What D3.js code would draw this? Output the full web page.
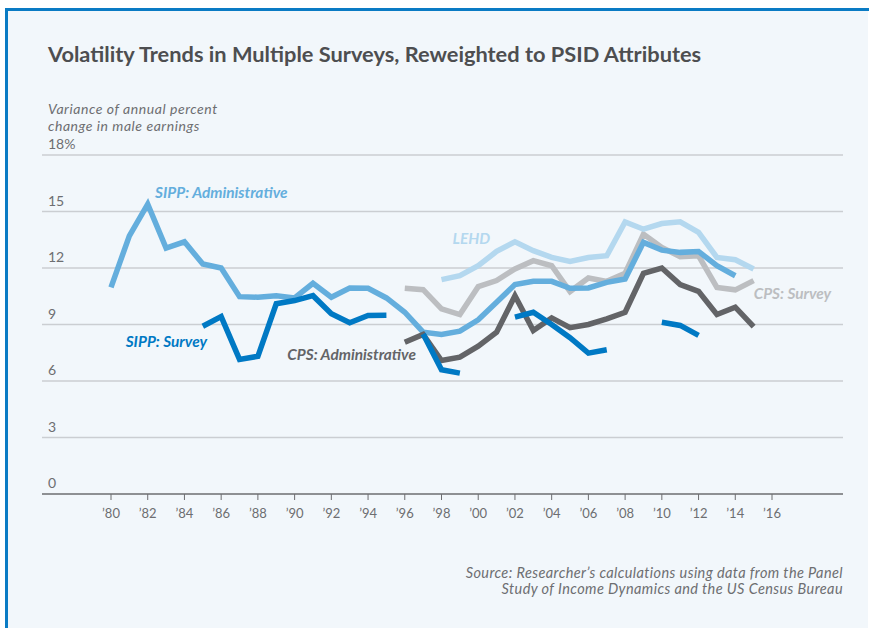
<!DOCTYPE html>
<head>
  <meta charset="utf-8">
  <script src="https://d3js.org/d3.v7.min.js"></script>
  <style>
    body { margin:0; background:#fff; }
    text { font-family: "Lato", "Open Sans", sans-serif; }
  </style>
</head>
<body>
<script>
  // data (variance of annual % change, male earnings)
  var yearsSippAdmin = d3.range(1980, 2015);
  var sippAdmin = [10.97, 13.71, 15.39, 13.06, 13.39, 12.21, 12.0, 10.48, 10.45, 10.52,
                   10.41, 11.19, 10.45, 10.94, 10.92, 10.41, 9.65, 8.59, 8.47, 8.65,
                   9.25, 10.18, 11.12, 11.29, 11.29, 10.92, 10.94, 11.24, 11.42, 13.36,
                   12.95, 12.83, 12.88, 12.12, 11.59];

  var yearsSippSurvey = d3.range(1985, 2013);
  var sippSurvey = [8.91, 9.42, 7.15, 7.31, 10.1, 10.27, 10.53, 9.57, 9.09, 9.48,
                    9.49, null, 8.5, 6.6, 6.42, null, null, 9.39, 9.65, 9.0,
                    8.3, 7.48, 7.66, null, null, 9.12, 8.95, 8.42];

  var yearsLehd = d3.range(1998, 2016);
  var lehd = [11.38, 11.59, 12.12, 12.88, 13.39, 12.92, 12.56, 12.35, 12.56, 12.65,
              14.45, 14.06, 14.36, 14.45, 13.89, 12.56, 12.44, 11.95];

  var yearsCps = d3.range(1996, 2016);
  var cpsSurvey = [10.92, 10.85, 9.83, 9.53, 11.01, 11.33, 11.95, 12.39, 12.12, 10.75,
                   11.47, 11.29, 11.72, 13.8, 13.09, 12.6, 12.65, 10.97, 10.84, 11.33];
  var cpsAdmin = [8.06, 8.47, 7.09, 7.27, 7.85, 8.59, 10.53, 8.68, 9.35, 8.83,
                  9.0, 9.3, 9.65, 11.72, 12.0, 11.12, 10.76, 9.53, 9.92, 8.89];

  var yTicks = [0, 3, 6, 9, 12, 15, 18];
  var xTicks = d3.range(1980, 2017, 2);

  var width = 869, height = 628;

  var svg = d3.select("body").append("svg")
    .attr("width", width)
    .attr("height", height);

  // panel with blue top/left border
  svg.append("rect").attr("x", 6).attr("y", 9).attr("width", 862).attr("height", 620)
    .attr("fill", "#f2f7fb");
  svg.append("rect").attr("x", 5).attr("y", 8).attr("width", 864).attr("height", 3)
    .attr("fill", "#0a7bc4");
  svg.append("rect").attr("x", 5).attr("y", 8).attr("width", 3).attr("height", 620)
    .attr("fill", "#0a7bc4");

  svg.append("text")
    .attr("x", 48).attr("y", 62)
    .attr("fill", "#4d4e50")
    .style("font-size", "21.8px").style("font-weight", "700")
    .text("Volatility Trends in Multiple Surveys, Reweighted to PSID Attributes");

  var axTitle = svg.append("text").attr("fill", "#6d6e71")
    .style("font-size", "14px").style("font-style", "italic")
    .style("letter-spacing", "0.55px");
  axTitle.append("tspan").attr("x", 48).attr("y", 114).text("Variance of annual percent");
  axTitle.append("tspan").attr("x", 48).attr("y", 131).text("change in male earnings");

  var x = d3.scaleLinear().domain([1980, 2016]).range([111, 772]);
  var y = d3.scaleLinear().domain([0, 18]).range([494, 155]);
  var left = 42, right = 843;

  // gridlines + y labels
  var gy = svg.append("g");
  gy.selectAll("line").data(yTicks.filter(function(d) { return d > 0; })).enter()
    .append("line")
    .attr("x1", left).attr("x2", right)
    .attr("y1", function(d) { return y(d); }).attr("y2", function(d) { return y(d); })
    .attr("stroke", "#cbced2").attr("stroke-width", 1.5);
  gy.selectAll("text").data(yTicks).enter()
    .append("text")
    .attr("x", 48).attr("y", function(d) { return y(d) - 6; })
    .attr("fill", "#6d6e71").style("font-size", "14px")
    .text(function(d) { return d === 18 ? "18%" : d; });

  // x axis
  svg.append("line").attr("x1", left).attr("x2", right)
    .attr("y1", y(0)).attr("y2", y(0))
    .attr("stroke", "#6d6e71").attr("stroke-width", 1.5);
  var gx = svg.append("g");
  gx.selectAll("line").data(xTicks).enter().append("line")
    .attr("x1", function(d) { return x(d); }).attr("x2", function(d) { return x(d); })
    .attr("y1", y(0)).attr("y2", y(0) + 6)
    .attr("stroke", "#6d6e71").attr("stroke-width", 1);
  gx.selectAll("text").data(xTicks).enter().append("text")
    .attr("x", function(d) { return x(d); }).attr("y", 518)
    .attr("text-anchor", "middle")
    .attr("fill", "#6d6e71").style("font-size", "13px")
    .text(function(d) { return "\u2019" + String(d).slice(2); });

  function pairs(years, vals) {
    return years.map(function(yr, i) { return [yr, vals[i]]; });
  }
  var line = d3.line()
    .defined(function(d) { return d[1] != null; })
    .x(function(d) { return x(d[0]); })
    .y(function(d) { return y(d[1]); });

  var series = [
    { name: "CPS: Survey", data: pairs(yearsCps, cpsSurvey), color: "#bcbec1", lab: [2015.0, 10.35] },
    { name: "LEHD", data: pairs(yearsLehd, lehd), color: "#b4d8ef", lab: [1998.6, 13.3] },
    { name: "SIPP: Administrative", data: pairs(yearsSippAdmin, sippAdmin), color: "#64aedd", lab: [1982.4, 15.7] },
    { name: "CPS: Administrative", data: pairs(yearsCps, cpsAdmin), color: "#636467", lab: [1989.6, 7.1] },
    { name: "SIPP: Survey", data: pairs(yearsSippSurvey, sippSurvey), color: "#0079c4", lab: [1980.8, 7.8] }
  ];

  svg.append("g").selectAll("path").data(series).enter().append("path")
    .attr("d", function(d) { return line(d.data); })
    .attr("fill", "none")
    .attr("stroke", function(d) { return d.color; })
    .attr("stroke-width", 5.5);

  svg.append("g").selectAll("text").data(series).enter().append("text")
    .attr("x", function(d) { return x(d.lab[0]); })
    .attr("y", function(d) { return y(d.lab[1]); })
    .attr("fill", function(d) { return d.color; })
    .style("font-size", "15.4px").style("font-style", "italic").style("font-weight", "700")
    .text(function(d) { return d.name; });

  var src = svg.append("text").attr("text-anchor", "end").attr("fill", "#6d6e71")
    .style("font-size", "14.5px").style("font-style", "italic")
    .style("letter-spacing", "0.4px");
  src.append("tspan").attr("x", 843).attr("y", 578)
    .text("Source: Researcher\u2019s calculations using data from the Panel");
  src.append("tspan").attr("x", 843).attr("y", 594)
    .text("Study of Income Dynamics and the US Census Bureau");
</script>
</body>
